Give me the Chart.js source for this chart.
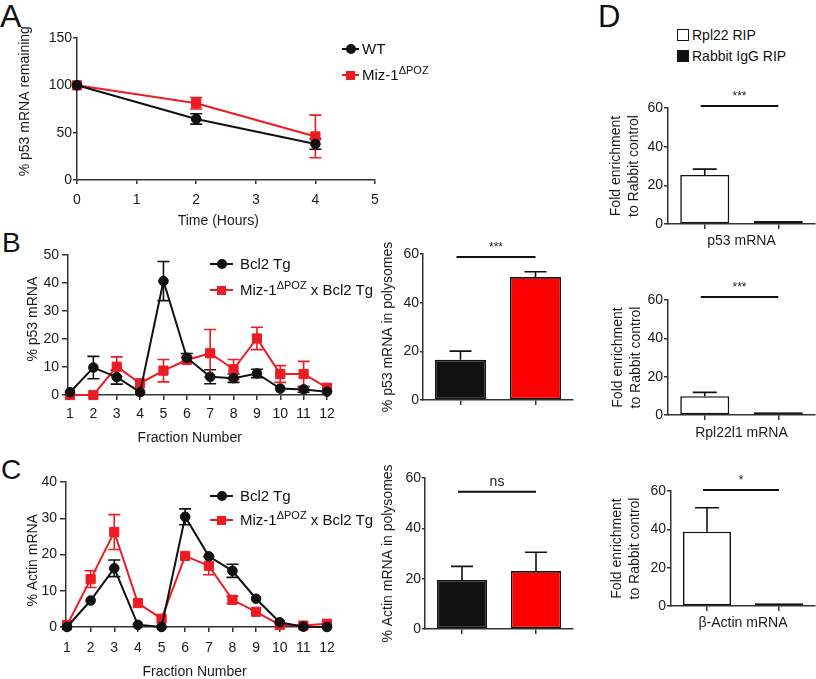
<!DOCTYPE html>
<html>
<head>
<meta charset="utf-8">
<title>p53 mRNA polysome figure</title>
<script src="https://cdn.jsdelivr.net/npm/chart.js@4.4.0/dist/chart.umd.min.js"></script>
<style>
  body { margin: 0; background: #fff; }
  #fig { position: relative; width: 816px; height: 679px; overflow: hidden;
         font-family: 'Liberation Sans', Arial, Helvetica, sans-serif; color: #111; }
  #fig canvas { position: absolute; }
  .letter { position: absolute; line-height: 1; }
  .leg { position: absolute; height: 20px; font-size: 15px; white-space: nowrap; }
  .leg .ln { position: absolute; top: 9px; height: 2px; }
  .leg .mk { position: absolute; box-sizing: border-box; }
  .leg .tx { position: absolute; top: 1px; line-height: 18px; }
  .leg sup { font-size: 11px; vertical-align: 6px; line-height: 0; }
</style>
</head>
<body>
<div id="fig">
  <div class="letter" style="left:0px;top:0px;font-size:32px">A</div>
  <div class="letter" style="left:2px;top:229px;font-size:28px">B</div>
  <div class="letter" style="left:1px;top:456px;font-size:28px">C</div>
  <div class="letter" style="left:598px;top:1px;font-size:31px">D</div>
  <canvas id="decay"></canvas>
  <canvas id="p53Frac"></canvas>
  <canvas id="p53Bars"></canvas>
  <canvas id="actinFrac"></canvas>
  <canvas id="actinBars"></canvas>
  <canvas id="ripP53"></canvas>
  <canvas id="ripRpl"></canvas>
  <canvas id="ripActin"></canvas>
</div>
<script>
// ---- A: p53 mRNA decay
const timeHours = [0, 2, 4];
const timeTicks = [0, 1, 2, 3, 4, 5];
const remainingTicks = [0, 50, 100, 150];
const decayNames = ['WT', 'Miz-1ΔPOZ'];
const wtRemaining = [100, 64.5, 38];
const wtRemainingErr = [0, 5.5, 5.5];
const mizRemaining = [100, 81, 46];
const mizRemainingErr = [0, 6, 22.5];

// ---- B / C: polysome profile fractions
const fractions = [1, 2, 3, 4, 5, 6, 7, 8, 9, 10, 11, 12];
const fractionNames = ['Bcl2 Tg', 'Miz-1ΔPOZ x Bcl2 Tg'];
const p53Ticks = [0, 10, 20, 30, 40, 50];
const p53Bcl2 = [1, 9.8, 6.4, 1, 40.7, 13.3, 6.5, 6, 7.7, 2.3, 2, 1.2];
const p53Bcl2Err = [0, 4, 2.5, 0, 7, 1.5, 2.5, 1.5, 1.5, 0, 1, 0];
const p53Miz = [0, 0, 10.1, 4.2, 8.7, 12.5, 14.9, 9.2, 20.2, 7.5, 7.5, 2.6];
const p53MizErr = [0, 0, 3.5, 0, 4, 1, 8.5, 3.5, 4, 3, 4.5, 0];
const actinTicks = [0, 10, 20, 30, 40];
const actinBcl2 = [0, 7.3, 16.2, 0.6, 0, 30.4, 19.5, 15.5, 7.8, 1.3, 0.1, 0];
const actinBcl2Err = [0, 0, 2.3, 0, 0, 2.2, 0, 1.8, 0, 0, 0, 0];
const actinMiz = [0.5, 13.2, 26.2, 6.6, 2.3, 19.6, 16.9, 7.5, 4.2, 0.6, 0.4, 0.9];
const actinMizErr = [0, 2.3, 4.8, 0, 0, 0, 2.5, 1, 0, 0, 0, 0];

// ---- B / C: % in polysomes
const polyTicks = [0, 20, 40, 60];
const p53Poly = [16.5, 50.5];
const p53PolyErr = [3.6, 2.2];
const actinPoly = [19.5, 23];
const actinPolyErr = [5.4, 7.5];
const polySig = ['***', 'ns'];

// ---- D: RIP
const ripNames = ['Rpl22 RIP', 'Rabbit IgG RIP'];
const ripTargets = ['p53 mRNA', 'Rpl22l1 mRNA', 'β-Actin mRNA'];
const ripTicks = [0, 20, 40, 60];
const ripP53 = [25.4, 1.5];
const ripP53Err = [3, 0];
const ripRpl22l1 = [9.8, 1.5];
const ripRpl22l1Err = [2, 0];
const ripActin = [38.8, 1.5];
const ripActinErr = [12.5, 0];
const ripSig = ['***', '***', '*'];

const FONT = "'Liberation Sans', Arial, Helvetica, sans-serif";
const INK = '#1a1a1a';
const BLACK = '#111111';
const RED = '#ec1c24';
const NB = '\u00a0';

Chart.defaults.font.family = FONT;
Chart.defaults.font.size = 14;
Chart.defaults.color = INK;

// error bars, read from dataset.errors
Chart.register({
  id: 'errorBars',
  beforeDatasetsDraw(chart) {
    const ctx = chart.ctx, y = chart.scales.y;
    chart.data.datasets.forEach((ds, i) => {
      if (!ds.errors) return;
      const meta = chart.getDatasetMeta(i);
      ctx.save();
      ctx.strokeStyle = ds.errorColor || ds.borderColor;
      ctx.lineWidth = 1.6;
      meta.data.forEach((el, k) => {
        const e = ds.errors[k];
        if (!e) return;
        const v = meta.controller.getParsed(k).y;
        const top = y.getPixelForValue(v + e);
        const bot = ds.upOnly ? y.getPixelForValue(v) : y.getPixelForValue(v - e);
        const h = ds.capWidth / 2;
        ctx.beginPath();
        ctx.moveTo(el.x, bot); ctx.lineTo(el.x, top);
        ctx.moveTo(el.x - h, top); ctx.lineTo(el.x + h, top);
        if (!ds.upOnly) { ctx.moveTo(el.x - h, bot); ctx.lineTo(el.x + h, bot); }
        ctx.stroke();
      });
      ctx.restore();
    });
  }
});

// significance bar between the two categories
Chart.register({
  id: 'sig',
  afterDatasetsDraw(chart, args, opts) {
    if (!opts || !opts.text) return;
    const {ctx, scales: {x, y}} = chart;
    const x0 = x.getPixelForValue(0) - 4, x1 = x.getPixelForValue(1);
    const yy = y.getPixelForValue(opts.value);
    ctx.save();
    ctx.strokeStyle = BLACK; ctx.lineWidth = 2;
    ctx.beginPath(); ctx.moveTo(x0, yy); ctx.lineTo(x1, yy); ctx.stroke();
    ctx.fillStyle = INK;
    ctx.font = (opts.text === 'ns' ? 14 : 12) + 'px ' + FONT;
    ctx.textAlign = 'center';
    ctx.fillText(opts.text, (x0 + x1) / 2, yy - 6);
    ctx.restore();
  }
});

function place(id, box) {
  const cv = document.getElementById(id);
  cv.width = box.w; cv.height = box.h;
  cv.style.left = box.x + 'px'; cv.style.top = box.y + 'px';
  return cv;
}

const zeroPad = s => { s.paddingLeft = s.paddingRight = s.paddingTop = s.paddingBottom = 0; };

function axes(box, area, o) {
  const tickList = list => s => { s.ticks = list.map(v => ({value: v})); };
  const x = {
    min: o.xMin, max: o.xMax,
    afterFit: s => { s.height = box.y + box.h - area.b; zeroPad(s); },
    border: {color: '#333', width: 1.5},
    grid: {drawOnChartArea: false, tickLength: o.xTick || 4, color: '#333', lineWidth: 1.5, offset: false},
    ticks: {padding: o.xPad || 6, color: INK, font: {size: 14}},
    title: {display: !!o.xTitle, text: o.xTitle, color: INK, font: {size: 14},
            padding: {top: 0, bottom: o.xTitlePad || 0}}
  };
  if (o.xTicks) x.afterBuildTicks = tickList(o.xTicks);
  const y = {
    min: o.yMin, max: o.yMax,
    afterBuildTicks: tickList(o.yTicks),
    afterFit: s => { s.width = area.l - box.x; zeroPad(s); },
    border: {color: '#333', width: 1.5},
    grid: {drawOnChartArea: false, tickLength: o.yTick || 4, color: '#333', lineWidth: 1.5},
    ticks: {padding: o.yPad || 1, color: INK, font: {size: 14}},
    title: {display: true, text: o.yTitle, color: INK,
            font: {size: 14, lineHeight: o.yLine || 1.2},
            padding: {top: o.yTitleX - box.x - 14 * (o.yLine || 1.2) / 2, bottom: 0}}
  };
  return {x, y};
}

function baseOptions(box, area, scales, plugins) {
  return {
    responsive: false, animation: false, devicePixelRatio: 1,
    layout: {padding: {left: 0, bottom: 0, top: area.t - box.y, right: box.x + box.w - area.r}},
    plugins: Object.assign({legend: {display: false}, tooltip: {enabled: false}}, plugins || {}),
    scales
  };
}

function lineChart(id, box, area, x, series, o) {
  const sc = axes(box, area, o);
  sc.x.type = 'linear';
  return new Chart(place(id, box), {
    type: 'line',
    data: {
      datasets: series.map(s => ({
        label: s.name,
        data: x.map((v, i) => ({x: v, y: s.values[i]})),
        errors: s.errors, capWidth: 12,
        borderColor: s.color, backgroundColor: s.color,
        borderWidth: 2, tension: 0, clip: false,
        pointStyle: s.shape, pointRadius: s.shape === 'rect' ? 6.5 : 4.8,
        pointBorderWidth: 1, pointBorderColor: s.color
      }))
    },
    options: baseOptions(box, area, sc)
  });
}

function barChart(id, box, area, labels, values, errors, colors, sig, o) {
  const sc = axes(box, area, o);
  sc.x.type = 'category';
  sc.x.offset = true;
  sc.x.ticks.display = false;
  return new Chart(place(id, box), {
    type: 'bar',
    data: {
      labels,
      datasets: [{
        data: values, errors, upOnly: true, capWidth: o.cap || 22, errorColor: BLACK,
        backgroundColor: colors, borderColor: BLACK, borderWidth: 1.6, borderSkipped: false,
        barPercentage: o.barPct || 0.68, categoryPercentage: 1
      }]
    },
    options: baseOptions(box, area, sc, {sig})
  });
}

// ---- legends (HTML)
const fmt = s => s.replace('ΔPOZ', '<sup>ΔPOZ</sup>');
function lineLegend(x, y, gap, lineW, textX, items) {
  const fig = document.getElementById('fig');
  items.forEach((it, i) => {
    const d = document.createElement('div');
    d.className = 'leg';
    d.style.left = x + 'px';
    d.style.top = (y + i * gap - 10) + 'px';
    const m = it.shape === 'rect' ? 9 : 10;
    const r = it.shape === 'rect' ? '0' : '50%';
    d.innerHTML = '<div class="ln" style="left:0;width:' + lineW + 'px;background:' + it.color + '"></div>' +
      '<div class="mk" style="left:' + (lineW / 2 - m / 2) + 'px;top:' + (10 - m / 2) + 'px;width:' + m +
      'px;height:' + m + 'px;border-radius:' + r + ';background:' + it.color + '"></div>' +
      '<span class="tx" style="left:' + (textX - x) + 'px">' + fmt(it.name) + '</span>';
    fig.appendChild(d);
  });
}
function boxLegend(x, y, gap, textX, names, fills) {
  const fig = document.getElementById('fig');
  names.forEach((n, i) => {
    const d = document.createElement('div');
    d.className = 'leg';
    d.style.left = x + 'px';
    d.style.top = (y + i * gap - 10) + 'px';
    d.innerHTML = '<div class="mk" style="left:0;top:4px;width:12px;height:12px;border:1.5px solid #111;background:' +
      fills[i] + '"></div><span class="tx" style="left:' + (textX - x) + 'px;font-size:14px">' + n + '</span>';
    fig.appendChild(d);
  });
}

// ---- A
lineChart('decay', {x: 0, y: 0, w: 410, h: 235}, {l: 77, t: 38, r: 375, b: 180}, timeHours, [
  {name: decayNames[0], values: wtRemaining, errors: wtRemainingErr, color: BLACK, shape: 'circle'},
  {name: decayNames[1], values: mizRemaining, errors: mizRemainingErr, color: RED, shape: 'rect'}
], {xMin: 0, xMax: 5, xTicks: timeTicks, yMin: 0, yMax: 150, yTicks: remainingTicks,
    xPad: 7.6, xTitle: 'Time (Hours)' + NB.repeat(4), xTitlePad: 5.6,
    yTitle: NB.repeat(4) + '% p53 mRNA remaining', yTitleX: 25});
lineLegend(342, 49, 26, 17, 362, [
  {name: decayNames[0], color: BLACK, shape: 'circle'},
  {name: decayNames[1], color: RED, shape: 'rect'}
]);

// ---- B
lineChart('p53Frac', {x: 0, y: 240, w: 345, h: 210}, {l: 68, t: 255, r: 327, b: 395}, fractions, [
  {name: fractionNames[0], values: p53Bcl2, errors: p53Bcl2Err, color: BLACK, shape: 'circle'},
  {name: fractionNames[1], values: p53Miz, errors: p53MizErr, color: RED, shape: 'rect'}
], {xMin: 0.914, xMax: 12, xTicks: fractions, yMin: 0, yMax: 50, yTicks: p53Ticks,
    xTick: 5, xPad: 5.6, yTick: 6, yPad: 3,
    xTitle: 'Fraction Number' + NB.repeat(4), xTitlePad: 3.6,
    yTitle: NB.repeat(3) + '% p53 mRNA', yTitleX: 33});
lineLegend(210, 264, 26, 23, 240, [
  {name: fractionNames[0], color: BLACK, shape: 'circle'},
  {name: fractionNames[1], color: RED, shape: 'rect'}
]);
barChart('p53Bars', {x: 345, y: 235, w: 235, h: 215}, {l: 423, t: 254, r: 573, b: 400},
  fractionNames, p53Poly, p53PolyErr, [BLACK, '#ff0000'], {text: polySig[0], value: 58.8},
  {yMin: 0, yMax: 60, yTicks: polyTicks, yTick: 3, yPad: 0, xTick: 5,
   yTitle: '% p53 mRNA in polysomes', yTitleX: 388});

// ---- C
lineChart('actinFrac', {x: 0, y: 455, w: 345, h: 226}, {l: 66, t: 482, r: 327, b: 627}, fractions, [
  {name: fractionNames[0], values: actinBcl2, errors: actinBcl2Err, color: BLACK, shape: 'circle'},
  {name: fractionNames[1], values: actinMiz, errors: actinMizErr, color: RED, shape: 'rect'}
], {xMin: 0.958, xMax: 12, xTicks: fractions, yMin: 0, yMax: 40, yTicks: actinTicks,
    xTick: 5, xPad: 7.6, yTick: 6, yPad: 3,
    xTitle: 'Fraction Number' + NB, xTitlePad: 0.6,
    yTitle: '% Actin mRNA' + NB.repeat(3), yTitleX: 33});
lineLegend(210, 496, 24, 23, 240, [
  {name: fractionNames[0], color: BLACK, shape: 'circle'},
  {name: fractionNames[1], color: RED, shape: 'rect'}
]);
barChart('actinBars', {x: 345, y: 455, w: 235, h: 224}, {l: 425, t: 478, r: 573, b: 629},
  fractionNames, actinPoly, actinPolyErr, [BLACK, '#ff0000'], {text: polySig[1], value: 54.5},
  {yMin: 0, yMax: 60, yTicks: polyTicks, yTick: 3, yPad: 0, xTick: 5,
   yTitle: '% Actin mRNA in polysomes', yTitleX: 388});

// ---- D
boxLegend(677, 35, 21, 692, ripNames, ['#fff', BLACK]);
const ripY = ['Fold enrichment', 'to Rabbit control'];
barChart('ripP53', {x: 585, y: 70, w: 231, h: 180}, {l: 668, t: 108, r: 815, b: 224},
  ripNames, ripP53, ripP53Err, ['#fff', BLACK], {text: ripSig[0], value: 61},
  {yMin: 0, yMax: 60, yTicks: ripTicks, yTick: 4, yPad: 1, xTick: 5, cap: 24, barPct: 0.667,
   xTitle: ripTargets[0], xTitlePad: 0.6, yTitle: ripY, yLine: 1.3, yTitleX: 616});
barChart('ripRpl', {x: 585, y: 265, w: 231, h: 180}, {l: 668, t: 300, r: 815, b: 415},
  ripNames, ripRpl22l1, ripRpl22l1Err, ['#fff', BLACK], {text: ripSig[1], value: 61.6},
  {yMin: 0, yMax: 60, yTicks: ripTicks, yTick: 4, yPad: 1, xTick: 5, cap: 24, barPct: 0.667,
   xTitle: ripTargets[1], xTitlePad: 3.6, yTitle: ripY, yLine: 1.3, yTitleX: 618});
barChart('ripActin', {x: 585, y: 455, w: 231, h: 180}, {l: 671, t: 491, r: 815, b: 606},
  ripNames, ripActin, ripActinErr, ['#fff', BLACK], {text: ripSig[2], value: 60.5},
  {yMin: 0, yMax: 60, yTicks: ripTicks, yTick: 4, yPad: 1, xTick: 5, cap: 24, barPct: 0.667,
   xTitle: ripTargets[2], xTitlePad: 3.6, yTitle: ripY, yLine: 1.3, yTitleX: 617});
</script>
</body>
</html>
